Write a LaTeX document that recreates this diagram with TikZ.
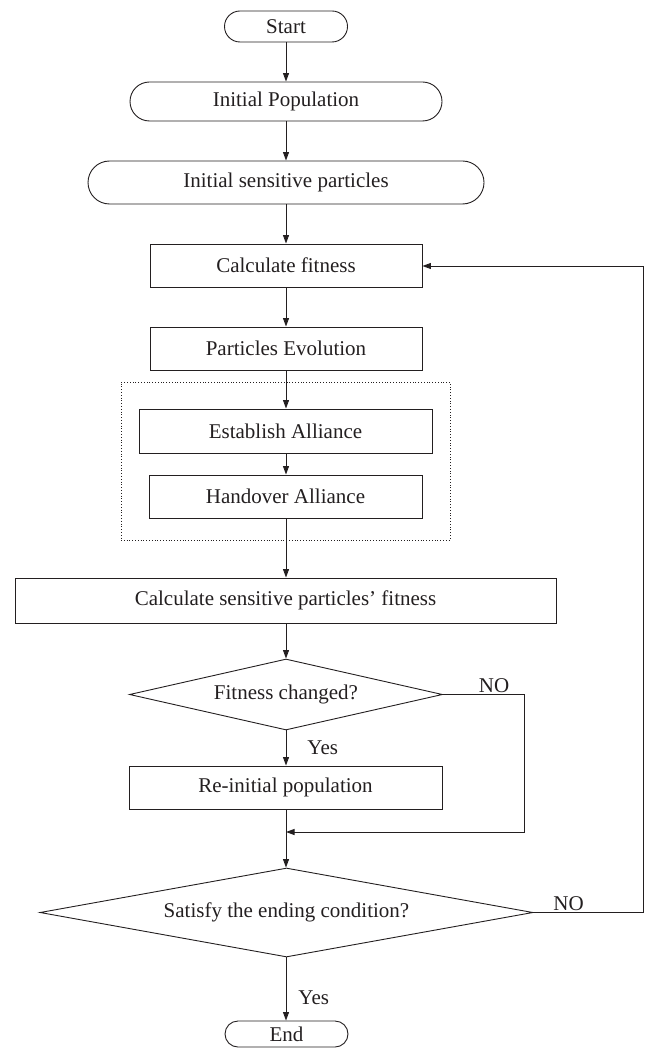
\documentclass[tikz,border=0pt]{standalone}
\usepackage{fontspec}
\setmainfont{Liberation Serif}
\usetikzlibrary{arrows.meta,shapes.misc,shapes.geometric}
\definecolor{ink}{HTML}{231F20}
\begin{document}
\begin{tikzpicture}[x=1pt,y=-1pt,
  every node/.style={font=\fontsize{21}{24}\selectfont, text=ink},
  line/.style={draw=ink, line width=0.9pt},
  arr/.style={line, -{Triangle[length=8.5pt,width=6pt]}},
  term/.style={line, rounded rectangle, inner sep=0pt},
  proc/.style={line, rectangle, inner sep=0pt},
  cond/.style={line, diamond, inner sep=0pt},
  lbl/.style={inner sep=1pt}]
\useasboundingbox (0,0) rectangle (645,1048);

% terminals and process boxes
\node[term, minimum width=123pt, minimum height=31pt] (start) at (286,26.5) {Start};
\node[term, minimum width=312pt, minimum height=39pt] (initpop) at (286,101.5) {Initial Population};
\node[term, minimum width=396pt, minimum height=43pt] (initsens) at (286,182.5) {Initial sensitive particles};
\node[proc, minimum width=272pt, minimum height=43pt] (calcfit) at (286,265.5) {Calculate fitness};
\node[proc, minimum width=272pt, minimum height=43pt] (evol) at (286,348.5) {Particles Evolution};

% alliance group
\node[draw=ink, line width=0.8pt, dotted, minimum width=329pt, minimum height=158pt, inner sep=0pt] (group) at (285.5,461) {};
\node[proc, minimum width=293pt, minimum height=44pt] (establish) at (285.5,431) {Establish Alliance};
\node[proc, minimum width=273pt, minimum height=43pt] (handover) at (285.5,496.5) {Handover Alliance};

\node[proc, minimum width=541pt, minimum height=45pt] (calcsens) at (285.5,600.5) {Calculate sensitive particles’ fitness};

% decisions
\node[cond, aspect=4.4, minimum width=313pt, minimum height=71pt] (changed) at (286,694.5) {Fitness changed?};
\node[proc, minimum width=313pt, minimum height=43pt] (reinit) at (285.5,787.5) {Re-initial population};
\node[cond, aspect=5.54, minimum width=493pt, minimum height=89pt] (ending) at (286.5,912.5) {Satisfy the ending condition?};
\node[term, minimum width=123pt, minimum height=26pt] (finish) at (286.5,1034) {End};

% routing points
\coordinate (col) at (286,0);
\coordinate (noA) at (524,694.5);
\coordinate (noB) at (524,832);
\coordinate (merge) at (286,832);
\coordinate (loopA) at (643,912.5);
\coordinate (loopB) at (643,266);

% main flow
\draw[arr] (col |- start.south) -- (col |- initpop.north);
\draw[arr] (col |- initpop.south) -- (col |- initsens.north);
\draw[arr] (col |- initsens.south) -- (col |- calcfit.north);
\draw[arr] (col |- calcfit.south) -- (col |- evol.north);
\draw[arr] (col |- evol.south) -- (col |- establish.north);
\draw[arr] (col |- establish.south) -- (col |- handover.north);
\draw[arr] (col |- handover.south) -- (col |- calcsens.north);
\draw[arr] (col |- calcsens.south) -- (col |- changed.north);
\draw[arr] (col |- changed.south) -- node[lbl, right=20pt, pos=0.5] {Yes} (col |- reinit.north);
\draw[arr] (col |- reinit.south) -- (col |- ending.north);
\draw[arr] (col |- ending.south) -- node[lbl, right=11pt, pos=0.64] {Yes} (col |- finish.north);

% branches
\draw[arr] (changed.east) -- node[lbl, above, pos=0.63] {NO} (noA) -- (noB) -- (merge);
\draw[arr] (ending.east) -- node[lbl, above, pos=0.32] {NO} (loopA) -- (loopB) -- (loopB -| calcfit.east);
\end{tikzpicture}
\end{document}
